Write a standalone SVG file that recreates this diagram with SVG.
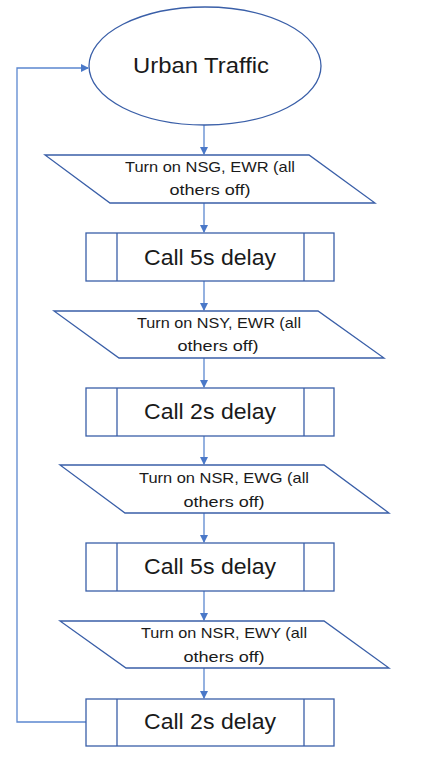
<svg xmlns="http://www.w3.org/2000/svg" width="443" height="766" viewBox="0 0 443 766">
<style>
.shape{fill:#fff;stroke:#3A5FA8;stroke-width:1.3}
.con{fill:none;stroke:#5B87D0;stroke-width:1.3}
.t{font-family:"Liberation Sans",Arial,sans-serif;fill:#1a1a1a;text-anchor:middle}
.s{font-size:15px}
.b{font-size:22px}
</style>
<defs>
<marker id="ah" markerWidth="8" markerHeight="8" refX="7" refY="4" orient="auto" markerUnits="userSpaceOnUse">
<path d="M0,0 L8,4 L0,8 z" fill="#4A78C8"/>
</marker>
</defs>
<g id="connectors">
<line class="con" x1="204" y1="125" x2="204" y2="154" marker-end="url(#ah)"/>
<line class="con" x1="204" y1="203" x2="204" y2="232" marker-end="url(#ah)"/>
<line class="con" x1="204" y1="281" x2="204" y2="310" marker-end="url(#ah)"/>
<line class="con" x1="204" y1="358" x2="204" y2="387" marker-end="url(#ah)"/>
<line class="con" x1="204" y1="436" x2="204" y2="464" marker-end="url(#ah)"/>
<line class="con" x1="204" y1="513" x2="204" y2="542" marker-end="url(#ah)"/>
<line class="con" x1="204" y1="591" x2="204" y2="620" marker-end="url(#ah)"/>
<line class="con" x1="204" y1="668" x2="204" y2="698" marker-end="url(#ah)"/>
<polyline class="con" points="86,722 17,722 17,68 88,68" marker-end="url(#ah)"/>
</g>
<g id="start">
<ellipse class="shape" cx="205" cy="66" rx="116" ry="59"/>
<text class="t b" x="201" y="73" textLength="136" lengthAdjust="spacingAndGlyphs">Urban Traffic</text>
</g>
<g id="io1">
<polygon class="shape" points="45,155 309,155 375,203 110,203"/>
<text class="t s" x="210" y="172" textLength="170" lengthAdjust="spacingAndGlyphs">Turn on NSG, EWR (all</text>
<text class="t s" x="210" y="195" textLength="81" lengthAdjust="spacingAndGlyphs">others off)</text>
</g>
<g id="proc1">
<rect class="shape" x="86" y="233" width="248" height="48"/>
<line class="shape" x1="117" y1="233" x2="117" y2="281"/>
<line class="shape" x1="304" y1="233" x2="304" y2="281"/>
<text class="t b" x="210" y="265" textLength="132" lengthAdjust="spacingAndGlyphs">Call 5s delay</text>
</g>
<g id="io2">
<polygon class="shape" points="54,311 318,311 384,358 119,358"/>
<text class="t s" x="219" y="328" textLength="164" lengthAdjust="spacingAndGlyphs">Turn on NSY, EWR (all</text>
<text class="t s" x="218" y="351" textLength="81" lengthAdjust="spacingAndGlyphs">others off)</text>
</g>
<g id="proc2">
<rect class="shape" x="86" y="388" width="248" height="48"/>
<line class="shape" x1="117" y1="388" x2="117" y2="436"/>
<line class="shape" x1="304" y1="388" x2="304" y2="436"/>
<text class="t b" x="210" y="419" textLength="132" lengthAdjust="spacingAndGlyphs">Call 2s delay</text>
</g>
<g id="io3">
<polygon class="shape" points="60,465 324,465 389,513 125,513"/>
<text class="t s" x="224" y="483" textLength="170" lengthAdjust="spacingAndGlyphs">Turn on NSR, EWG (all</text>
<text class="t s" x="224" y="507" textLength="81" lengthAdjust="spacingAndGlyphs">others off)</text>
</g>
<g id="proc3">
<rect class="shape" x="86" y="543" width="248" height="48"/>
<line class="shape" x1="117" y1="543" x2="117" y2="591"/>
<line class="shape" x1="304" y1="543" x2="304" y2="591"/>
<text class="t b" x="210" y="574" textLength="132" lengthAdjust="spacingAndGlyphs">Call 5s delay</text>
</g>
<g id="io4">
<polygon class="shape" points="60,621 324,621 389,668 126,668"/>
<text class="t s" x="224" y="638" textLength="166" lengthAdjust="spacingAndGlyphs">Turn on NSR, EWY (all</text>
<text class="t s" x="224" y="662" textLength="81" lengthAdjust="spacingAndGlyphs">others off)</text>
</g>
<g id="proc4">
<rect class="shape" x="86" y="699" width="248" height="47"/>
<line class="shape" x1="117" y1="699" x2="117" y2="746"/>
<line class="shape" x1="304" y1="699" x2="304" y2="746"/>
<text class="t b" x="210" y="729" textLength="132" lengthAdjust="spacingAndGlyphs">Call 2s delay</text>
</g>
</svg>
